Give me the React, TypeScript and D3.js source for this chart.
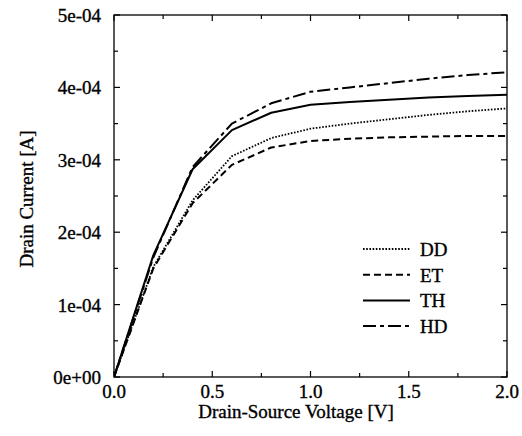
import React from "react";
import * as d3 from "d3";

const voltages = [0, 0.2, 0.4, 0.6, 0.8, 1.0, 1.2, 1.4, 1.6, 1.8, 2.0];
const ddValues = [0, 1.52, 2.44, 3.05, 3.30, 3.43, 3.50, 3.56, 3.62, 3.67, 3.71];
const etValues = [0, 1.50, 2.40, 2.93, 3.17, 3.26, 3.29, 3.31, 3.32, 3.33, 3.33];
const thValues = [0, 1.68, 2.87, 3.41, 3.65, 3.76, 3.80, 3.83, 3.86, 3.88, 3.90];
const hdValues = [0, 1.65, 2.90, 3.50, 3.78, 3.94, 4.00, 4.06, 4.12, 4.17, 4.21];
const seriesNames = ["DD", "ET", "TH", "HD"];
const xTicks = [0, 0.5, 1.0, 1.5, 2.0];
const yTicks = [0, 1e-4, 2e-4, 3e-4, 4e-4, 5e-4];
const yTickLabels = ["0e+00", "1e-04", "2e-04", "3e-04", "4e-04", "5e-04"];

const W = 522, H = 436;
const L = 114, R = 507, T = 15, B = 377;
const FONT = "'Liberation Serif', 'DejaVu Serif', serif";
const FS = 19;

const styles: Record<string, { dash: string; width: number }> = {
  DD: { dash: "1.6,1.6", width: 1.8 },
  ET: { dash: "7,4", width: 2 },
  TH: { dash: "", width: 2 },
  HD: { dash: "13,4,4,4", width: 2 },
};

const textStyle = { fontFamily: FONT, fontSize: FS, fill: "#000", stroke: "#000", strokeWidth: 0.35 };

export default function App() {
  const x = d3.scaleLinear().domain([0, 2]).range([L, R]);
  const y = d3.scaleLinear().domain([0, 5e-4]).range([B, T]);
  const valuesBy: Record<string, number[]> = { DD: ddValues, ET: etValues, TH: thValues, HD: hdValues };
  const line = d3
    .line<[number, number]>()
    .x((d) => x(d[0]))
    .y((d) => y(d[1]));

  const xMinor = d3.range(0, 2.001, 0.25);
  const yMinor = d3.range(0, 5.001e-4, 0.5e-4);

  return (
    <svg width={W} height={H} style={{ position: "absolute", left: 0, top: 0, background: "#fff" }}>
      <defs>
        <clipPath id="clip">
          <rect x={L} y={T} width={R - L} height={B - T} />
        </clipPath>
      </defs>
      <g clipPath="url(#clip)">
        {seriesNames.map((name) => (
          <path
            key={name}
            d={line(voltages.map((v, i) => [v, valuesBy[name][i] * 1e-4]))!}
            fill="none"
            stroke="#000"
            strokeWidth={styles[name].width}
            strokeDasharray={styles[name].dash || undefined}
            strokeLinejoin="round"
          />
        ))}
      </g>
      <rect x={L} y={T} width={R - L} height={B - T} fill="none" stroke="#000" strokeWidth={1.3} />
      {xMinor.map((v, i) => {
        const len = i % 2 === 0 ? 6 : 4;
        return (
          <g key={"xt" + i} stroke="#000" strokeWidth={1.2}>
            <line x1={x(v)} x2={x(v)} y1={B} y2={B - len} />
            <line x1={x(v)} x2={x(v)} y1={T} y2={T + len} />
          </g>
        );
      })}
      {yMinor.map((v, i) => {
        const len = i % 2 === 0 ? 6 : 4;
        return (
          <g key={"yt" + i} stroke="#000" strokeWidth={1.2}>
            <line x1={L} x2={L + len} y1={y(v)} y2={y(v)} />
            <line x1={R} x2={R - len} y1={y(v)} y2={y(v)} />
          </g>
        );
      })}
      {xTicks.map((v) => (
        <text key={"xl" + v} x={x(v)} y={398} textAnchor="middle" {...textStyle}>
          {v.toFixed(1)}
        </text>
      ))}
      {yTicks.map((v, i) => (
        <text key={"yl" + v} x={101} y={y(v) + 7} textAnchor="end" {...textStyle}>
          {yTickLabels[i]}
        </text>
      ))}
      <text x={296} y={418} textAnchor="middle" {...textStyle}>
        Drain-Source Voltage [V]
      </text>
      <text transform={`translate(33, 199) rotate(-90)`} textAnchor="middle" {...textStyle}>
        Drain Current [A]
      </text>
      {seriesNames.map((name, i) => {
        const ly = 249 + i * 25.7;
        return (
          <g key={"lg" + name}>
            <line
              x1={363}
              x2={410}
              y1={ly}
              y2={ly}
              stroke="#000"
              strokeWidth={styles[name].width}
              strokeDasharray={styles[name].dash || undefined}
            />
            <text x={420} y={ly + 7} {...textStyle}>
              {name}
            </text>
          </g>
        );
      })}
    </svg>
  );
}
